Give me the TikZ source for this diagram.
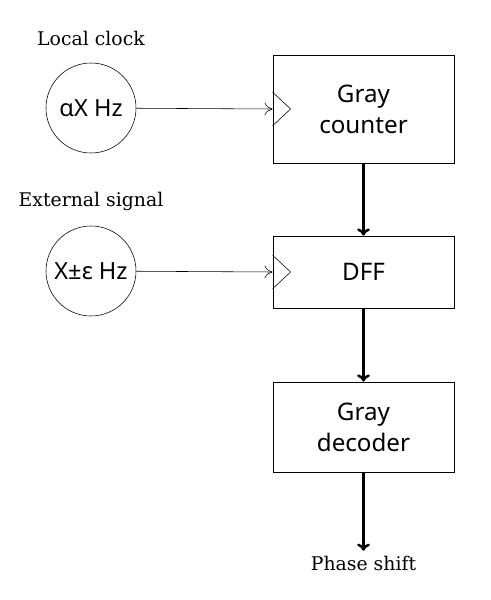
\documentclass[tikz,border=0pt]{standalone}
\usepackage{fontspec}
\usepackage{tikz}
\usetikzlibrary{shapes.geometric, arrows, arrows.meta}
\newfontfamily\boxfont{Noto Sans}
\newfontfamily\labelfont{DejaVu Serif}

\begin{document}
\begin{tikzpicture}
				[scale= 1.0, auto= center,
				block/.style = {draw, semithick, rectangle, minimum width=4.525cm, align=center, font=\boxfont\fontsize{17.2}{22}\selectfont},
				osc/.style = {draw, thin, circle, minimum size=2.25cm, inner sep=0pt, font=\boxfont\fontsize{16.8}{20}\selectfont},
				note/.style = {font=\labelfont\fontsize{13.4}{16}\selectfont},
				clk/.style = {thin, -{To[length=2mm,width=3.2mm]}},
				bus/.style = {line width=1.8pt, -{To[length=1.8mm,width=3.2mm]}}]
				\useasboundingbox (0,0) rectangle (12.275,15);
				\node[note] (lbl1) at (2.275,14.05) {Local clock};
				\node[note] (lbl2) at (2.275,9.975) {External signal};
				\node[osc] (lclk) at (2.275,12.3) {αX Hz};
				\node[osc] (ext) at (2.275,8.225) {X±ε Hz};
				\node[block, minimum height=2.7cm] (cnt) at (9.0875,12.275) {Gray\\counter};
				\node[block, minimum height=1.8cm] (dff) at (9.0875,8.2) {DFF};
				\node[block, minimum height=2.25cm] (dec) at (9.0875,4.325) {Gray\\decoder};
				\node[note] (out) at (9.0875,0.925) {Phase shift};
				% clock inputs
				\draw[thin] ([yshift=0.42cm]cnt.west) -- ([xshift=0.45cm]cnt.west) -- ([yshift=-0.42cm]cnt.west);
				\draw[thin] ([yshift=0.42cm]dff.west) -- ([xshift=0.45cm]dff.west) -- ([yshift=-0.42cm]dff.west);
				\draw[clk] (lclk) -- (cnt.west);
				\draw[clk] (ext) -- (dff.west);
				\draw[bus] (cnt) -- (dff);
				\draw[bus] (dff) -- (dec);
				\draw[bus] (dec) -- (out);
			\end{tikzpicture}
\end{document}
